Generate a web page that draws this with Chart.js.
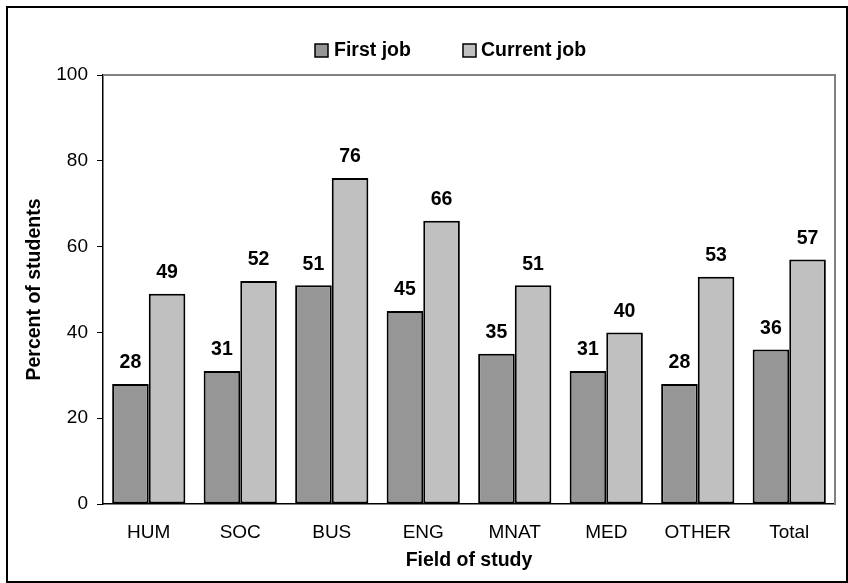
<!DOCTYPE html>
<html>
<head>
<meta charset="utf-8">
<script src="https://cdn.jsdelivr.net/npm/chart.js@4.4.1/dist/chart.umd.min.js"></script>
<style>
html,body{margin:0;padding:0;background:#fff;}
canvas{display:block;}
</style>
</head>
<body>
<canvas id="c" width="848" height="583"></canvas>
<script>
const categories = ["HUM", "SOC", "BUS", "ENG", "MNAT", "MED", "OTHER", "Total"];
const firstJob = [28, 31, 51, 45, 35, 31, 28, 36];
const currentJob = [49, 52, 76, 66, 51, 40, 53, 57];
const seriesNames = ["First job", "Current job"];
const yTicks = [0, 20, 40, 60, 80, 100];

const FONT = '"Liberation Sans", Arial, sans-serif';

const decorPlugin = {
  id: 'decor',
  beforeDraw(chart) {
    const ctx = chart.ctx;
    ctx.save();
    ctx.fillStyle = '#fff';
    ctx.fillRect(0, 0, chart.width, chart.height);
    ctx.fillStyle = '#000';
    ctx.fillRect(6, 6, 2, chart.height - 6);
    ctx.fillRect(6, 6, chart.width - 6, 2);
    ctx.fillRect(chart.width - 2, 6, 2, chart.height - 6);
    ctx.fillRect(6, chart.height - 2, chart.width - 6, 2);
    ctx.restore();
  },
  beforeDatasetsDraw(chart) {
    const ctx = chart.ctx, a = chart.chartArea;
    ctx.save();
    ctx.strokeStyle = '#808080';
    ctx.lineWidth = 2;
    ctx.beginPath();
    ctx.moveTo(a.left, a.top);
    ctx.lineTo(a.right, a.top);
    ctx.lineTo(a.right, a.bottom);
    ctx.stroke();
    ctx.restore();
  },
  afterDatasetsDraw(chart) {
    const ctx = chart.ctx;
    ctx.save();
    ctx.font = 'bold 19.5px ' + FONT;
    ctx.fillStyle = '#000';
    ctx.textAlign = 'center';
    ctx.textBaseline = 'middle';
    chart.data.datasets.forEach((ds, i) => {
      const meta = chart.getDatasetMeta(i);
      meta.data.forEach((bar, j) => {
        ctx.fillText(String(ds.data[j]), bar.x, bar.y - 21);
      });
    });
    // legend
    const items = [{box: 315, text: 334}, {box: 463, text: 481}];
    ctx.textAlign = 'left';
    chart.data.datasets.forEach((ds, i) => {
      const it = items[i];
      ctx.fillStyle = ds.backgroundColor;
      ctx.fillRect(it.box, 44, 13, 13);
      ctx.strokeStyle = '#000';
      ctx.lineWidth = 1.5;
      ctx.strokeRect(it.box, 44, 13, 13);
      ctx.fillStyle = '#000';
      ctx.fillText(ds.label, it.text, 51);
    });
    ctx.restore();
  }
};

new Chart(document.getElementById('c'), {
  type: 'bar',
  data: {
    labels: categories,
    datasets: [
      { label: seriesNames[0], data: firstJob, backgroundColor: '#969696', borderColor: '#000', borderWidth: 2, borderSkipped: false, categoryPercentage: 0.8, barPercentage: 1.0 },
      { label: seriesNames[1], data: currentJob, backgroundColor: '#C0C0C0', borderColor: '#000', borderWidth: 2, borderSkipped: false, categoryPercentage: 0.8, barPercentage: 1.0 }
    ]
  },
  options: {
    responsive: false,
    animation: false,
    devicePixelRatio: 1,
    layout: { padding: { top: 75, right: 13, bottom: 0, left: 23 } },
    plugins: { legend: { display: false }, title: { display: false }, tooltip: { enabled: false } },
    scales: {
      x: {
        grid: { display: false, drawTicks: false },
        border: { display: true, color: '#000', width: 1.5 },
        ticks: { color: '#000', font: { family: FONT, size: 19 }, padding: 17, maxRotation: 0, autoSkip: false },
        title: { display: true, text: 'Field of study', color: '#000', font: { family: FONT, size: 19.5, weight: 'bold' }, padding: { top: 0, bottom: 11 } },
        afterFit(s) { s.height = 79; }
      },
      y: {
        min: 0, max: 100,
        afterBuildTicks(s) { s.ticks = yTicks.map(v => ({ value: v })); },
        grid: { display: true, drawOnChartArea: false, drawTicks: true, tickLength: 6, color: '#000', lineWidth: 1 },
        border: { display: true, color: '#000', width: 1.5 },
        ticks: { color: '#000', font: { family: FONT, size: 19 }, padding: 9 },
        title: { display: true, text: 'Percent of students', color: '#000', font: { family: FONT, size: 19.5, weight: 'bold' }, padding: 0 },
        afterFit(s) { s.width = 80; }
      }
    }
  },
  plugins: [decorPlugin]
});
</script>
</body>
</html>
